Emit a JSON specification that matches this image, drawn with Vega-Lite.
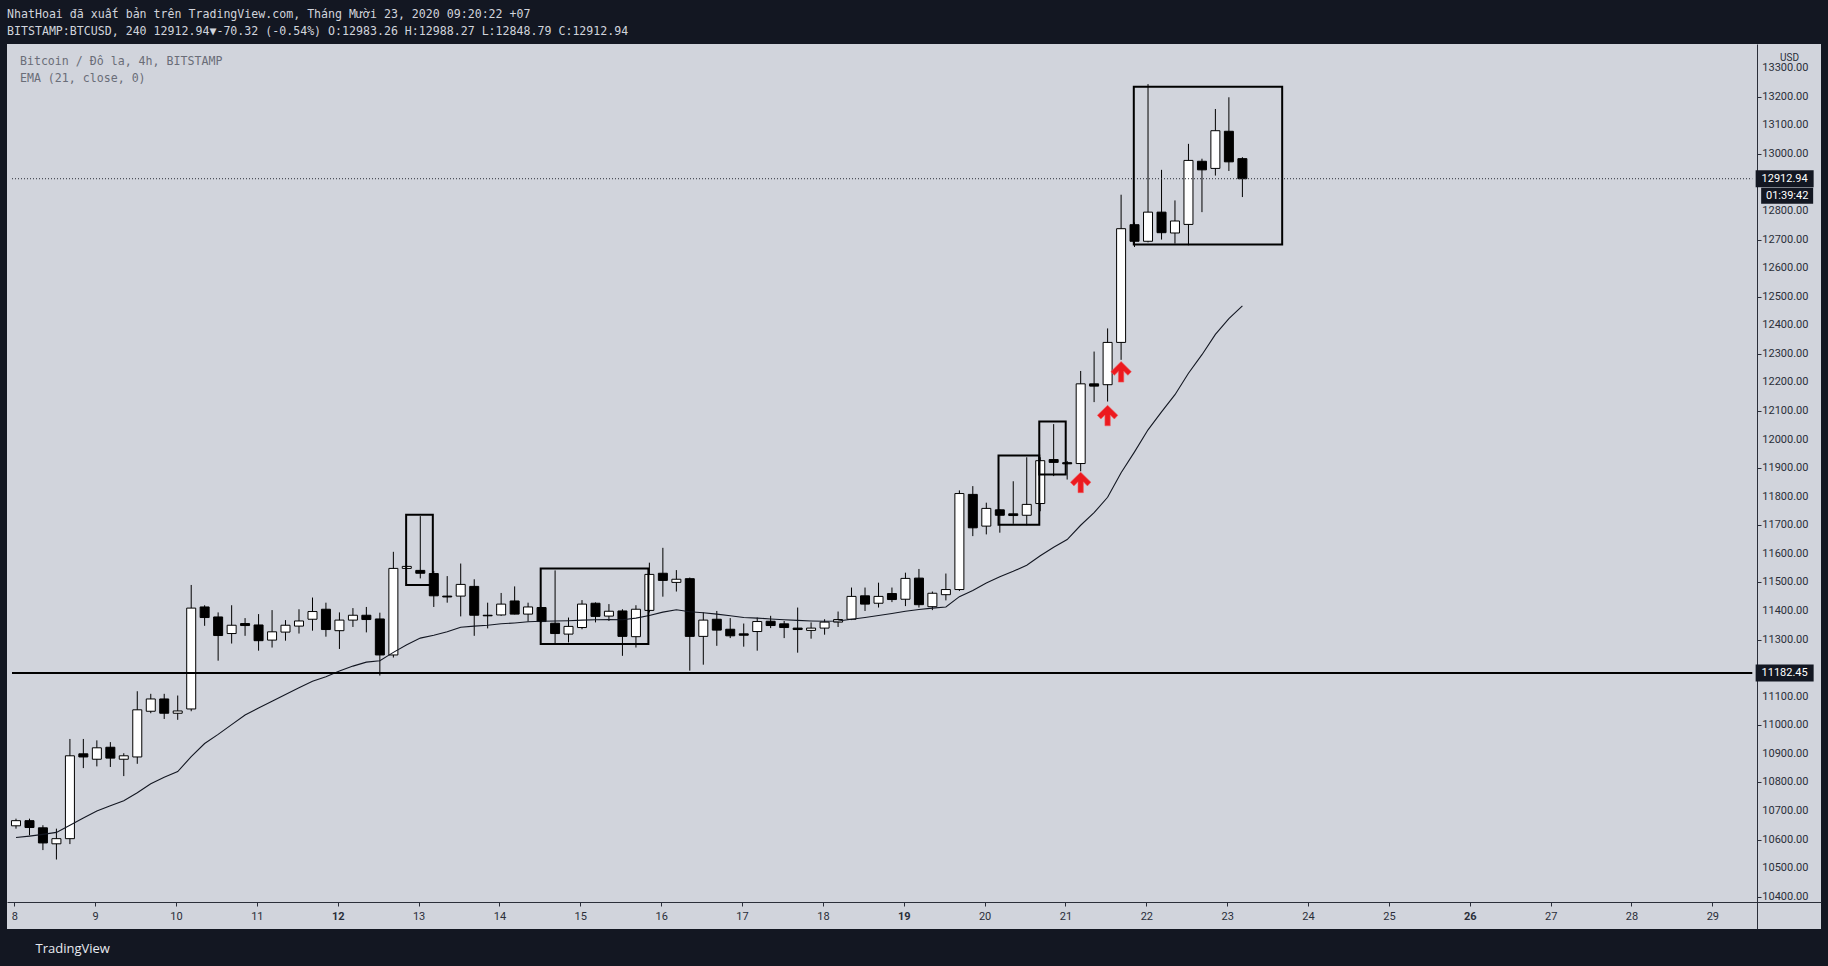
{
  "$schema": "https://vega.github.io/schema/vega-lite/v6.json",
  "autosize": {"type": "none"},
  "width": 1814,
  "height": 885,
  "padding": {"left": 7, "top": 44, "right": 7, "bottom": 37},
  "background": "#131722",
  "config": {
    "view": {"fill": "#d1d4dc", "stroke": null}
  },
  "title": {
    "text": "NhatHoai đã xuất bản trên TradingView.com, Tháng Mười 23, 2020 09:20:22 +07",
    "subtitle": "BITSTAMP:BTCUSD, 240 12912.94▼-70.32 (-0.54%) O:12983.26 H:12988.27 L:12848.79 C:12912.94",
    "anchor": "start",
    "frame": "group",
    "offset": 6,
    "font": "DejaVu Sans Mono",
    "fontSize": 11.6,
    "fontWeight": "normal",
    "color": "#d1d4dc",
    "subtitleFont": "DejaVu Sans Mono",
    "subtitleFontSize": 11.6,
    "subtitleColor": "#d1d4dc",
    "subtitlePadding": 6
  },
  "datasets": {
    "candles": [
      {"t":8.021,"o":10648,"h":10673,"l":10638,"c":10666,"e":10607},
      {"t":8.188,"o":10666,"h":10673,"l":10615,"c":10642,"e":10612},
      {"t":8.354,"o":10641,"h":10650,"l":10563,"c":10588,"e":10618},
      {"t":8.521,"o":10585,"h":10638,"l":10530,"c":10603,"e":10625},
      {"t":8.688,"o":10603,"h":10952,"l":10584,"c":10893,"e":10650},
      {"t":8.854,"o":10900,"h":10952,"l":10850,"c":10889,"e":10675},
      {"t":9.021,"o":10881,"h":10947,"l":10856,"c":10921,"e":10700},
      {"t":9.188,"o":10923,"h":10941,"l":10854,"c":10885,"e":10718},
      {"t":9.354,"o":10881,"h":10902,"l":10822,"c":10893,"e":10736},
      {"t":9.521,"o":10889,"h":11119,"l":10865,"c":11054,"e":10764},
      {"t":9.688,"o":11049,"h":11110,"l":11042,"c":11092,"e":10795},
      {"t":9.854,"o":11092,"h":11110,"l":11022,"c":11042,"e":10818},
      {"t":10.021,"o":11042,"h":11104,"l":11019,"c":11050,"e":10838},
      {"t":10.188,"o":11057,"h":11491,"l":11049,"c":11410,"e":10890},
      {"t":10.354,"o":11414,"h":11420,"l":11348,"c":11377,"e":10936},
      {"t":10.521,"o":11379,"h":11395,"l":11226,"c":11314,"e":10968},
      {"t":10.688,"o":11321,"h":11420,"l":11286,"c":11350,"e":11002},
      {"t":10.854,"o":11356,"h":11375,"l":11313,"c":11349,"e":11036},
      {"t":11.021,"o":11351,"h":11389,"l":11261,"c":11296,"e":11060},
      {"t":11.188,"o":11298,"h":11403,"l":11272,"c":11327,"e":11084},
      {"t":11.354,"o":11326,"h":11368,"l":11296,"c":11350,"e":11108},
      {"t":11.521,"o":11347,"h":11406,"l":11321,"c":11365,"e":11131},
      {"t":11.688,"o":11371,"h":11447,"l":11331,"c":11398,"e":11154},
      {"t":11.854,"o":11406,"h":11429,"l":11310,"c":11335,"e":11170},
      {"t":12.021,"o":11331,"h":11395,"l":11267,"c":11368,"e":11190},
      {"t":12.188,"o":11368,"h":11410,"l":11344,"c":11385,"e":11207},
      {"t":12.354,"o":11385,"h":11414,"l":11325,"c":11370,"e":11221},
      {"t":12.521,"o":11372,"h":11394,"l":11174,"c":11246,"e":11226},
      {"t":12.688,"o":11246,"h":11607,"l":11237,"c":11549,"e":11255},
      {"t":12.854,"o":11549,"h":11558,"l":11547,"c":11556,"e":11282},
      {"t":13.021,"o":11542,"h":11732,"l":11514,"c":11532,"e":11305},
      {"t":13.188,"o":11531,"h":11540,"l":11414,"c":11453,"e":11315},
      {"t":13.354,"o":11452,"h":11522,"l":11429,"c":11449,"e":11327},
      {"t":13.521,"o":11452,"h":11566,"l":11381,"c":11493,"e":11343},
      {"t":13.688,"o":11486,"h":11511,"l":11313,"c":11385,"e":11347},
      {"t":13.854,"o":11385,"h":11429,"l":11339,"c":11383,"e":11350},
      {"t":14.021,"o":11386,"h":11463,"l":11383,"c":11424,"e":11355},
      {"t":14.188,"o":11435,"h":11486,"l":11388,"c":11389,"e":11358},
      {"t":14.354,"o":11389,"h":11429,"l":11363,"c":11414,"e":11362},
      {"t":14.521,"o":11412,"h":11414,"l":11360,"c":11363,"e":11364},
      {"t":14.688,"o":11357,"h":11542,"l":11284,"c":11321,"e":11365},
      {"t":14.854,"o":11319,"h":11377,"l":11290,"c":11346,"e":11366},
      {"t":15.021,"o":11342,"h":11438,"l":11336,"c":11424,"e":11368},
      {"t":15.188,"o":11427,"h":11430,"l":11360,"c":11381,"e":11369},
      {"t":15.354,"o":11382,"h":11424,"l":11365,"c":11399,"e":11370},
      {"t":15.521,"o":11400,"h":11406,"l":11243,"c":11311,"e":11369},
      {"t":15.688,"o":11310,"h":11420,"l":11272,"c":11406,"e":11375},
      {"t":15.854,"o":11402,"h":11569,"l":11395,"c":11528,"e":11384},
      {"t":16.021,"o":11532,"h":11621,"l":11450,"c":11507,"e":11396},
      {"t":16.188,"o":11500,"h":11543,"l":11468,"c":11511,"e":11404},
      {"t":16.354,"o":11513,"h":11517,"l":11191,"c":11311,"e":11397},
      {"t":16.521,"o":11311,"h":11395,"l":11212,"c":11368,"e":11394},
      {"t":16.688,"o":11371,"h":11400,"l":11278,"c":11333,"e":11389},
      {"t":16.854,"o":11336,"h":11375,"l":11305,"c":11313,"e":11383},
      {"t":17.021,"o":11320,"h":11356,"l":11275,"c":11315,"e":11377},
      {"t":17.188,"o":11328,"h":11377,"l":11261,"c":11363,"e":11375},
      {"t":17.354,"o":11364,"h":11383,"l":11340,"c":11349,"e":11372},
      {"t":17.521,"o":11355,"h":11365,"l":11305,"c":11342,"e":11369},
      {"t":17.688,"o":11340,"h":11412,"l":11254,"c":11335,"e":11367},
      {"t":17.854,"o":11332,"h":11360,"l":11303,"c":11340,"e":11365},
      {"t":18.021,"o":11340,"h":11371,"l":11317,"c":11361,"e":11364},
      {"t":18.188,"o":11361,"h":11398,"l":11344,"c":11370,"e":11365},
      {"t":18.354,"o":11371,"h":11482,"l":11368,"c":11451,"e":11371},
      {"t":18.521,"o":11453,"h":11482,"l":11400,"c":11424,"e":11377},
      {"t":18.688,"o":11427,"h":11499,"l":11412,"c":11451,"e":11384},
      {"t":18.854,"o":11461,"h":11482,"l":11431,"c":11440,"e":11391},
      {"t":19.021,"o":11441,"h":11534,"l":11417,"c":11514,"e":11399},
      {"t":19.188,"o":11515,"h":11547,"l":11412,"c":11422,"e":11405},
      {"t":19.354,"o":11415,"h":11468,"l":11403,"c":11462,"e":11410},
      {"t":19.521,"o":11457,"h":11531,"l":11437,"c":11475,"e":11414},
      {"t":19.688,"o":11475,"h":11822,"l":11470,"c":11811,"e":11450},
      {"t":19.854,"o":11808,"h":11837,"l":11662,"c":11691,"e":11472},
      {"t":20.021,"o":11697,"h":11779,"l":11668,"c":11759,"e":11498},
      {"t":20.188,"o":11754,"h":11756,"l":11674,"c":11735,"e":11520},
      {"t":20.354,"o":11740,"h":11854,"l":11705,"c":11734,"e":11539},
      {"t":20.521,"o":11735,"h":11938,"l":11700,"c":11773,"e":11560},
      {"t":20.688,"o":11776,"h":11938,"l":11749,"c":11926,"e":11593},
      {"t":20.854,"o":11930,"h":12054,"l":11872,"c":11920,"e":11623},
      {"t":21.021,"o":11919,"h":11925,"l":11860,"c":11915,"e":11650},
      {"t":21.188,"o":11916,"h":12240,"l":11889,"c":12195,"e":11700},
      {"t":21.354,"o":12195,"h":12308,"l":12131,"c":12187,"e":11744},
      {"t":21.521,"o":12192,"h":12389,"l":12133,"c":12340,"e":11798},
      {"t":21.688,"o":12340,"h":12857,"l":12279,"c":12738,"e":11884},
      {"t":21.854,"o":12752,"h":12760,"l":12674,"c":12694,"e":11957},
      {"t":22.021,"o":12694,"h":13244,"l":12690,"c":12796,"e":12034},
      {"t":22.188,"o":12796,"h":12944,"l":12700,"c":12724,"e":12097},
      {"t":22.354,"o":12723,"h":12837,"l":12686,"c":12765,"e":12157},
      {"t":22.521,"o":12753,"h":13035,"l":12680,"c":12977,"e":12232},
      {"t":22.688,"o":12974,"h":12983,"l":12796,"c":12944,"e":12297},
      {"t":22.854,"o":12949,"h":13157,"l":12924,"c":13081,"e":12368},
      {"t":23.021,"o":13079,"h":13198,"l":12940,"c":12972,"e":12423},
      {"t":23.188,"o":12983.26,"h":12988.27,"l":12848.79,"c":12912.94,"e":12468}
    ],
    "boxes": [
      {"x1": 12.846, "x2": 13.176, "y1": 11491, "y2": 11737},
      {"x1": 14.51, "x2": 15.842, "y1": 11284, "y2": 11549},
      {"x1": 20.172, "x2": 20.676, "y1": 11702, "y2": 11944},
      {"x1": 20.676, "x2": 21.003, "y1": 11878, "y2": 12063},
      {"x1": 21.845, "x2": 23.68, "y1": 12683, "y2": 13235}
    ],
    "arrows": [
      {"t": 21.188, "p": 11850},
      {"t": 21.521, "p": 12084},
      {"t": 21.688, "p": 12237}
    ],
    "priceLabels": [
      {"p": 12912.94},
      {"p": 11182.45}
    ],
    "yTicks": [
      {"p":10400},{"p":10500},{"p":10600},{"p":10700},{"p":10800},{"p":10900},{"p":11000},{"p":11100},
      {"p":11300},{"p":11400},{"p":11500},{"p":11600},{"p":11700},{"p":11800},{"p":11900},{"p":12000},
      {"p":12100},{"p":12200},{"p":12300},{"p":12400},{"p":12500},{"p":12600},{"p":12700},{"p":12800},
      {"p":13000},{"p":13100},{"p":13200},{"p":13300}
    ]
  },
  "layer": [
    {
      "data": {"name": "candles"},
      "mark": {"type": "rule", "color": "#000000", "strokeWidth": 1},
      "encoding": {
        "x": {
          "field": "t", "type": "quantitative",
          "scale": {"domain": [7.9717, 30.2818], "nice": false, "zero": false},
          "axis": {
            "orient": "bottom", "offset": -27,
            "values": [8,9,10,11,12,13,14,15,16,17,18,19,20,21,22,23,24,25,26,27,28,29],
            "format": "d",
            "grid": false,
            "domainColor": "#2a2e39", "domainWidth": 1,
            "tickColor": "#2a2e39", "tickSize": 4,
            "labelColor": "#2a2e39", "labelFont": "Roboto", "labelFontSize": 11,
            "labelFontWeight": {"condition": {"test": "datum.value == 12 || datum.value == 19 || datum.value == 26", "value": "bold"}, "value": "normal"},
            "labelPadding": 4, "labelFlush": false, "labelOverlap": false,
            "title": "TradingView",
            "titleX": 28, "titleY": 46, "titleAlign": "left", "titleBaseline": "middle",
            "titleFont": "Open Sans", "titleFontSize": 13, "titleFontWeight": "normal", "titleColor": "#e8eaf0"
          }
        },
        "y": {
          "field": "l", "type": "quantitative",
          "scale": {"domain": [10286.8, 13384.5], "nice": false, "zero": false},
          "axis": {
            "orient": "right", "offset": -64,
            "values": [10400,10500,10600,10700,10800,10900,11000,11100,11300,11400,11500,11600,11700,11800,11900,12000,12100,12200,12300,12400,12500,12600,12700,12800,13000,13100,13200,13300],
            "labels": false,
            "grid": false,
            "domainColor": "#2a2e39", "domainWidth": 1,
            "tickColor": "#2a2e39", "tickSize": 4,
            "title": "USD",
            "titleAngle": 0, "titleX": 32, "titleY": 13, "titleAlign": "center", "titleBaseline": "middle",
            "titleFont": "Roboto", "titleFontSize": 10, "titleFontWeight": "normal", "titleColor": "#2a2e39"
          }
        },
        "y2": {"field": "h"}
      }
    },
    {
      "data": {"name": "candles"},
      "mark": {"type": "bar", "size": 9, "stroke": "#000000", "strokeWidth": 1},
      "encoding": {
        "x": {"field": "t", "type": "quantitative"},
        "y": {"field": "o", "type": "quantitative"},
        "y2": {"field": "c"},
        "fill": {"condition": {"test": "datum.c >= datum.o", "value": "#ffffff"}, "value": "#000000"}
      }
    },
    {
      "data": {"name": "candles"},
      "mark": {"type": "line", "color": "#131722", "strokeWidth": 1.1},
      "encoding": {
        "x": {"field": "t", "type": "quantitative"},
        "y": {"field": "e", "type": "quantitative"}
      }
    },
    {
      "data": {"name": "boxes"},
      "mark": {"type": "rect", "filled": false, "color": "#000000", "strokeWidth": 2},
      "encoding": {
        "x": {"field": "x1", "type": "quantitative"},
        "x2": {"field": "x2"},
        "y": {"field": "y1", "type": "quantitative"},
        "y2": {"field": "y2"}
      }
    },
    {
      "data": {"name": "arrows"},
      "mark": {"type": "point", "filled": true, "color": "#ec1a1f", "opacity": 1, "size": 420,
               "stroke": "#f25a5e", "strokeWidth": 1, "strokeOpacity": 0.6,
               "shape": "M0,-1L1,-0.02L0.66,0.34L0.26,-0.06L0.26,1L-0.26,1L-0.26,-0.06L-0.66,0.34L-1,-0.02Z"},
      "encoding": {
        "x": {"field": "t", "type": "quantitative"},
        "y": {"field": "p", "type": "quantitative"}
      }
    },
    {
      "data": {"values": [{"p": 11182.45}]},
      "mark": {"type": "rule", "color": "#000000", "strokeWidth": 2},
      "encoding": {
        "x": {"datum": 7.9717, "type": "quantitative"},
        "x2": {"datum": 29.494},
        "y": {"field": "p", "type": "quantitative"}
      }
    },
    {
      "data": {"values": [{"p": 12912.94}]},
      "mark": {"type": "rule", "color": "#2a2e39", "strokeWidth": 1, "strokeDash": [1, 2]},
      "encoding": {
        "x": {"datum": 7.9717, "type": "quantitative"},
        "x2": {"datum": 29.494},
        "y": {"field": "p", "type": "quantitative"}
      }
    },
    {
      "data": {"name": "yTicks"},
      "mark": {"type": "text", "color": "#2a2e39", "font": "Roboto", "fontSize": 11, "align": "left", "baseline": "middle", "dx": 10},
      "encoding": {
        "x": {"datum": 29.494, "type": "quantitative"},
        "y": {"field": "p", "type": "quantitative"},
        "text": {"field": "p", "type": "quantitative", "format": ".2f"}
      }
    },
    {
      "data": {"name": "priceLabels"},
      "mark": {"type": "tick", "orient": "horizontal", "size": 58, "thickness": 17, "color": "#131722", "opacity": 1},
      "encoding": {
        "x": {"datum": 29.894, "type": "quantitative"},
        "y": {"field": "p", "type": "quantitative"}
      }
    },
    {
      "data": {"name": "priceLabels"},
      "mark": {"type": "text", "color": "#ffffff", "font": "Roboto", "fontSize": 11, "align": "center", "baseline": "middle"},
      "encoding": {
        "x": {"datum": 29.894, "type": "quantitative"},
        "y": {"field": "p", "type": "quantitative"},
        "text": {"field": "p", "type": "quantitative", "format": ".2f"}
      }
    },
    {
      "data": {"values": [{"p": 12912.94, "label": "01:39:42"}]},
      "mark": {"type": "tick", "orient": "horizontal", "size": 52, "thickness": 16, "color": "#131722", "opacity": 1, "yOffset": 17},
      "encoding": {
        "x": {"datum": 29.925, "type": "quantitative"},
        "y": {"field": "p", "type": "quantitative"}
      }
    },
    {
      "data": {"values": [{"p": 12912.94, "label": "01:39:42"}]},
      "mark": {"type": "text", "color": "#ffffff", "font": "Roboto", "fontSize": 11, "align": "center", "baseline": "middle", "yOffset": 17},
      "encoding": {
        "x": {"datum": 29.925, "type": "quantitative"},
        "y": {"field": "p", "type": "quantitative"},
        "text": {"field": "label", "type": "nominal"}
      }
    },
    {
      "data": {"values": [{"label": "Bitcoin / Đô la, 4h, BITSTAMP\nEMA (21, close, 0)"}]},
      "mark": {"type": "text", "color": "#6a6d78", "font": "DejaVu Sans Mono", "fontSize": 11.6, "align": "left", "baseline": "top", "lineBreak": "\n", "lineHeight": 17},
      "encoding": {
        "x": {"datum": 8.07, "type": "quantitative"},
        "y": {"datum": 13343, "type": "quantitative"},
        "text": {"field": "label", "type": "nominal"}
      }
    }
  ]
}
